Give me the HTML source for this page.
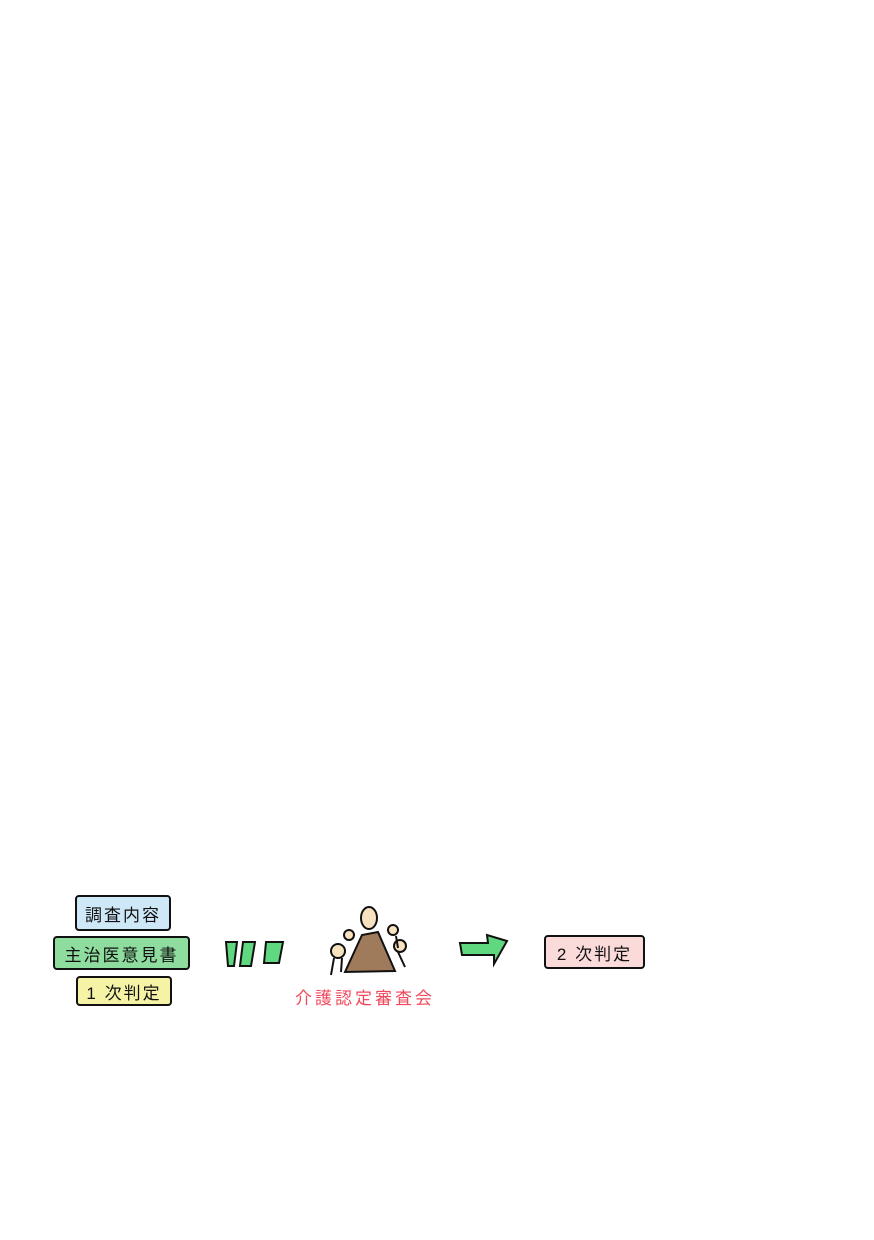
<!DOCTYPE html>
<html><head><meta charset="utf-8"><style>
body{margin:0;width:874px;height:1240px;background:#fff;position:relative;overflow:hidden;font-family:"Liberation Sans","Noto Sans CJK JP",sans-serif}
.b{position:absolute;border:2px solid #111;border-radius:4px;font-size:17px;color:#111;display:flex;align-items:center;justify-content:center;box-sizing:border-box;letter-spacing:2px}
</style></head><body>
<div class="b" style="left:75px;top:895px;width:96px;height:36px;background:#cfe8f8">調査内容</div>
<div class="b" style="left:53px;top:936px;width:137px;height:34px;background:#8fdc9f">主治医意見書</div>
<div class="b" style="left:76px;top:976px;width:96px;height:30px;background:#f6f3a6">1 次判定</div>
<div class="b" style="left:544px;top:935px;width:101px;height:34px;background:#fbdada">2 次判定</div>
<svg width="874" height="1240" style="position:absolute;left:0;top:0">
<g fill="#5fd87f" stroke="#111" stroke-width="2">
<path d="M226 942 L237 942 L234 966 L228 966 Z"/>
<path d="M243 942 L255 942 L251 966 L240 966 Z"/>
<path d="M266 942 L283 942 L279 963 L264 963 Z"/>
<path d="M460 943 L488 943 L487 935 L507 941 L494 964 L494 955 L462 955 Z"/>
</g>
<path d="M345 972 L362 935 L378 932 L395 971 Z" fill="#a07b5b" stroke="#111" stroke-width="2"/>
<g fill="#f6e2bf" stroke="#111" stroke-width="2">
<ellipse cx="369" cy="918" rx="8" ry="11"/>
<circle cx="349" cy="935" r="5"/><circle cx="338" cy="951" r="7"/>
<circle cx="393" cy="930" r="5"/><circle cx="400" cy="946" r="6"/>
</g>
<g stroke="#111" stroke-width="2" fill="none">
<path d="M334 958 L331 975 M342 958 L341 972 M398 952 L405 967 M396 936 L398 948"/>
</g>
<text x="295" y="1004" font-size="17" letter-spacing="3" fill="#f04a5c" font-family="Liberation Sans, Noto Sans CJK JP, sans-serif">介護認定審査会</text>
</svg>
</body></html>
